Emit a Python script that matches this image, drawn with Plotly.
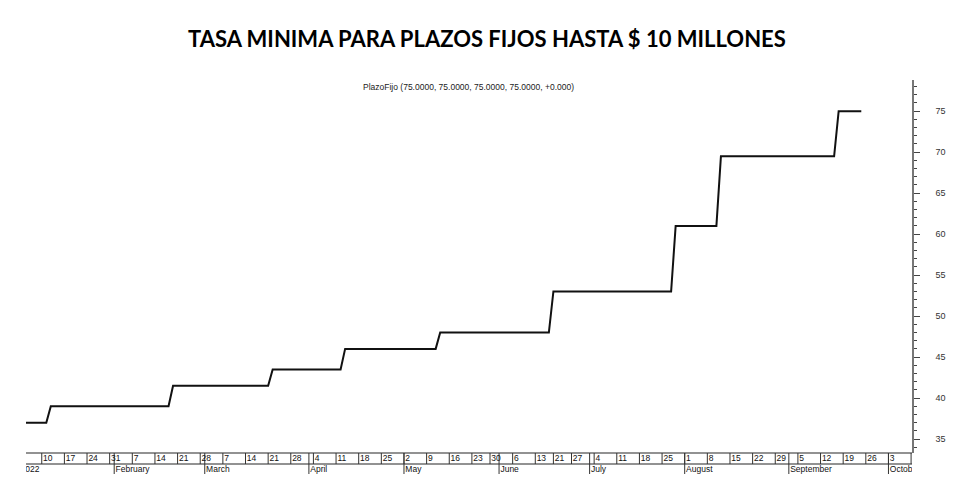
import pandas as pd
import plotly.graph_objects as go

# ---------------- data ----------------
TITLE = "TASA MINIMA PARA PLAZOS FIJOS HASTA $ 10 MILLONES"
SUBTITLE = "PlazoFijo (75.0000, 75.0000, 75.0000, 75.0000, +0.000)"

# first trading day at which each minimum rate level applies (%)
STEP_DATES = ["2022-01-03", "2022-01-12", "2022-02-18", "2022-03-22", "2022-04-13",
              "2022-05-12", "2022-06-21", "2022-07-28", "2022-08-11", "2022-09-16"]
STEP_RATES = [37.0, 39.0, 41.5, 43.5, 46.0, 48.0, 53.0, 61.0, 69.5, 75.0]
LAST_DATE = "2022-09-23"

# trading calendar of the chart
CAL_START = "2022-01-03"
CAL_END = "2022-10-14"
MISSING_DAYS = ["2022-05-25", "2022-06-17", "2022-06-20"]
MONTH_LABELS = ["2022", "February", "March", "April", "May", "June", "July",
                "August", "September", "October"]
Y_TICKS = [35, 40, 45, 50, 55, 60, 65, 70, 75]

# ---------------- build ----------------
days = pd.bdate_range(CAL_START, CAL_END).difference(pd.to_datetime(MISSING_DAYS))
pos = {d: i for i, d in enumerate(days)}

step_dates = pd.to_datetime(STEP_DATES)
series_days = [d for d in days if d <= pd.Timestamp(LAST_DATE)]
xs, ys = [], []
for d in series_days:
    k = step_dates.searchsorted(d, side="right") - 1
    xs.append(pos[d])
    ys.append(STEP_RATES[k])

iso = days.isocalendar()
week_first = [d for j, d in enumerate(days)
              if j == 0 or (iso.week.iloc[j] != iso.week.iloc[j - 1])]
month_first = [d for j, d in enumerate(days)
               if j == 0 or days[j].month != days[j - 1].month]

W, H = 980, 490
PL, PR = 26, 912          # plot left/right px
PT, PB = 80, 453          # main plot top/bottom px
BT, BB = 451, 477         # bottom label strip px
X_RANGE = [1.52, 197.2]
Y_RANGE = [33.3, 78.8]

fig = go.Figure()

fig.add_trace(go.Scatter(x=xs, y=ys, mode="lines",
                         line=dict(color="#111111", width=2),
                         hoverinfo="skip", showlegend=False))

# bottom strip: horizontal rules
hx, hy = [], []
for yy in (453, 464):
    hx += [X_RANGE[0] - 5, X_RANGE[1] + 5, None]
    hy += [yy, yy, None]
fig.add_trace(go.Scatter(x=hx, y=hy, mode="lines", xaxis="x2", yaxis="y2",
                         line=dict(color="#6e6e6e", width=1.5),
                         hoverinfo="skip", showlegend=False))

# week separators
wx, wy = [], []
for d in week_first:
    wx += [pos[d], pos[d], None]
    wy += [453, 464, None]
fig.add_trace(go.Scatter(x=wx, y=wy, mode="lines", xaxis="x2", yaxis="y2",
                         line=dict(color="#333333", width=1),
                         hoverinfo="skip", showlegend=False))
# month separators
mx, my = [], []
for d in month_first:
    mx += [pos[d], pos[d], None]
    my += [453, 474, None]
fig.add_trace(go.Scatter(x=mx, y=my, mode="lines", xaxis="x2", yaxis="y2",
                         line=dict(color="#333333", width=1),
                         hoverinfo="skip", showlegend=False))

lab_font = dict(family="Liberation Sans, Arial", size=8.5, color="#111111")
fig.add_trace(go.Scatter(x=[pos[d] + 0.3 for d in week_first], y=[459] * len(week_first),
                         text=[str(d.day) for d in week_first], mode="text",
                         textposition="middle right", textfont=lab_font,
                         xaxis="x2", yaxis="y2", cliponaxis=True,
                         hoverinfo="skip", showlegend=False))
fig.add_trace(go.Scatter(x=[pos[d] + 0.3 for d in month_first], y=[469.5] * len(month_first),
                         text=MONTH_LABELS[:len(month_first)], mode="text",
                         textposition="middle right", textfont=lab_font,
                         xaxis="x2", yaxis="y2", cliponaxis=True,
                         hoverinfo="skip", showlegend=False))

xdom = [PL / W, PR / W]
fig.update_layout(
    width=W, height=H, autosize=False,
    margin=dict(l=0, r=0, t=0, b=0),
    paper_bgcolor="white", plot_bgcolor="white",
    xaxis=dict(domain=xdom, range=X_RANGE, showticklabels=False, ticks="",
               showgrid=False, zeroline=False, showline=False, anchor="y"),
    yaxis=dict(domain=[1 - PB / H, 1 - PT / H], range=Y_RANGE, side="right", anchor="x",
               tickvals=Y_TICKS, ticks="outside", ticklen=6, tickwidth=1, tickcolor="#444444",
               showline=True, linecolor="#777777", linewidth=1.5,
               showgrid=False, zeroline=False, ticklabelstandoff=14,
               tickfont=dict(family="Liberation Sans, Arial", size=9, color="#333333"),
               minor=dict(dtick=1, tick0=0, ticks="outside", ticklen=3,
                          tickcolor="#444444", showgrid=False)),
    xaxis2=dict(domain=xdom, matches="x", showticklabels=False, ticks="",
                showgrid=False, zeroline=False, showline=False, anchor="y2"),
    yaxis2=dict(domain=[1 - BB / H, 1 - BT / H], range=[BB, BT], visible=False, anchor="x2"),
    annotations=[
        dict(text="<b>" + TITLE + "</b>", xref="paper", yref="paper",
             x=486.5 / W, y=1 - 38.7 / H, xanchor="center", yanchor="middle",
             showarrow=False,
             font=dict(family="Lato, Open Sans", size=22, color="#000000")),
        dict(text=SUBTITLE, xref="paper", yref="paper",
             x=468.7 / W, y=1 - 86.7 / H, xanchor="center", yanchor="middle",
             showarrow=False,
             font=dict(family="Liberation Sans, Arial", size=8.5, color="#222222")),
    ],
)

fig.write_html("out.html")
